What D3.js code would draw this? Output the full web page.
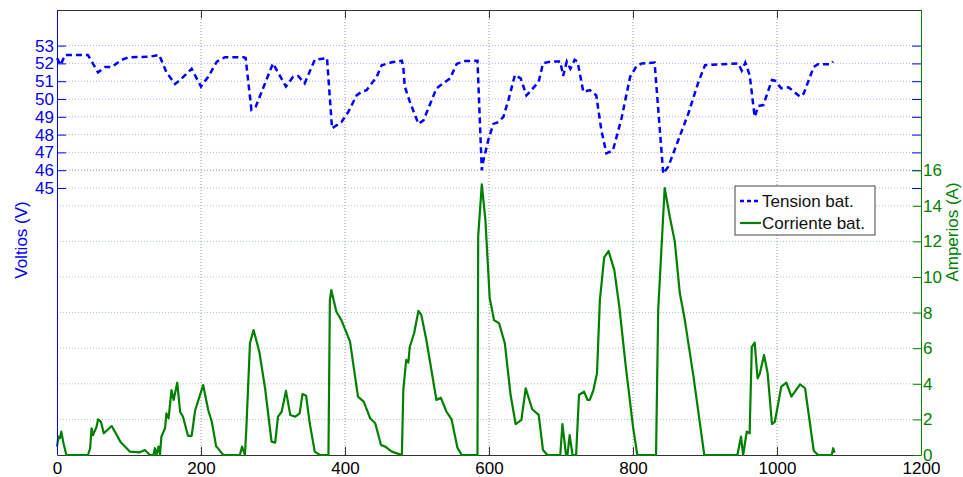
<!DOCTYPE html>
<html>
<head>
<meta charset="utf-8">
<script src="https://cdn.jsdelivr.net/npm/d3@7"></script>
<style>
  body { margin: 0; background: #fff; }
  svg { display: block; font-family: "Liberation Sans", Arial, sans-serif; }
</style>
</head>
<body>
<div id="chart"></div>
<script>
// x positions (s) and battery voltage (V)
const timeV = [0, 5, 11, 43, 57, 67, 76, 90, 99, 129, 142, 152, 164, 171, 187, 200, 210, 222, 233, 259,
  262, 270, 276, 300, 318, 328, 335, 344, 358, 375, 382, 395, 405, 416, 423, 430, 444, 451, 465, 479,
  481, 483, 490, 502, 509, 527, 546, 555, 567, 584, 590, 592, 599, 606, 613, 620, 627, 636, 644, 652,
  659, 669, 675, 685, 699, 703, 708, 713, 719, 723, 731, 740, 749, 756, 763, 772, 784, 796, 805, 812,
  830, 842, 849, 863, 877, 891, 900, 921, 946, 951, 956, 962, 969, 974, 981, 993, 997, 1006, 1016, 1032,
  1037, 1051, 1057, 1074, 1078]
const voltage = [52.3, 51.9, 52.47, 52.47, 51.5, 51.8, 51.8, 52.2, 52.34, 52.38, 52.47, 51.5, 50.84, 51.07, 51.7, 50.7, 51.25, 52.1, 52.34, 52.34,
  52.3, 49.4, 49.57, 52.0, 50.7, 51.25, 51.29, 50.88, 52.2, 52.3, 48.35, 48.7, 49.3, 50.2, 50.4, 50.5, 51.25, 51.9, 52.06, 52.15,
  51.8, 50.7, 49.85, 48.6, 48.8, 50.6, 51.16, 51.97, 52.13, 52.15, 46.0, 46.5, 47.7, 48.6, 48.7, 49.0, 49.94, 51.35, 51.16, 50.2,
  50.5, 50.97, 52.0, 52.1, 52.1, 51.3, 52.1, 51.7, 52.2, 52.1, 50.4, 50.5, 50.2, 48.26, 46.95, 47.1, 48.9, 51.25, 51.85, 52.0,
  52.05, 45.8, 46.2, 47.7, 49.2, 50.97, 51.9, 51.95, 52.0, 51.6, 52.04, 51.35, 49.0, 49.6, 49.66, 51.07, 51.03, 50.6, 50.66, 50.13,
  50.3, 51.8, 51.95, 51.95, 52.1]

// x positions (s) and battery current (A)
const timeI = [0, 2, 4, 6, 9, 13, 43, 46, 48, 50, 55, 57, 61, 65, 76, 88, 101, 115, 122, 129,
  134, 136, 138, 141, 143, 145, 150, 152, 155, 159, 162, 167, 171, 175, 182, 187, 192, 203, 210, 215,
  221, 231, 254, 257, 261, 263, 268, 273, 281, 289, 298, 303, 307, 312, 318, 324, 331, 337, 341, 346,
  351, 358, 365, 377, 379, 381, 388, 395, 407, 418, 426, 435, 442, 450, 456, 465, 479, 481, 485, 488,
  490, 496, 502, 506, 513, 527, 533, 541, 548, 556, 562, 584, 585, 590, 595, 601, 607, 614, 622, 630,
  637, 645, 651, 660, 669, 675, 681, 699, 702, 707, 709, 712, 716, 721, 725, 732, 737, 740, 745, 750,
  754, 760, 766, 774, 781, 790, 800, 806, 832, 835, 844, 851, 858, 865, 872, 884, 899, 945, 950, 953,
  958, 962, 965, 969, 973, 976, 982, 987, 993, 997, 1006, 1013, 1020, 1032, 1039, 1051, 1057, 1076, 1078, 1080]
const current = [0.47, 1.03, 0.94, 1.31, 0.66, 0, 0, 0.38, 1.5, 1.12, 1.59, 2.0, 1.87, 1.22, 1.63, 0.75, 0.19, 0.15, 0.28, 0,
  0, 0.38, 0, 0.47, 0, 1.03, 1.5, 2.34, 2.06, 3.65, 3.09, 4.06, 2.43, 2.15, 1.07, 1.07, 2.53, 3.93, 2.53, 1.87,
  0.5, 0, 0, 0.47, 0, 1.5, 6.28, 7.02, 5.8, 3.75, 0.75, 0.69, 2.15, 2.43, 3.6, 2.25, 2.15, 2.34, 3.43, 3.33,
  1.78, 0.19, 0, 0, 8.7, 9.27, 8.05, 7.58, 6.37, 3.28, 3.0, 2.06, 1.78, 0.56, 0.47, 0.19, 0, 3.65, 5.34, 5.19,
  6.08, 6.84, 8.1, 7.87, 6.46, 3.09, 3.22, 2.43, 2.0, 0.43, 0, 0, 12.3, 15.2, 13.2, 8.8, 7.58, 7.4, 6.27, 3.37,
  1.74, 1.97, 3.75, 2.57, 2.25, 0.28, 0, 0, 1.74, 0, 0, 1.12, 0, 0, 3.37, 3.56, 3.09, 3.09, 3.65, 4.59,
  8.7, 11.1, 11.46, 10.4, 8.33, 4.96, 1.59, 0, 0, 8.15, 15.0, 13.4, 12.0, 9.1, 7.58, 4.4, 0, 0, 1.03, 0,
  1.31, 1.22, 6.08, 6.31, 4.31, 4.55, 5.62, 4.59, 1.74, 1.87, 3.84, 4.06, 3.28, 3.97, 3.75, 0.24, 0, 0, 0.38, 0.13]

const xTicks = [0, 200, 400, 600, 800, 1000, 1200]
const vTicks = [45, 46, 47, 48, 49, 50, 51, 52, 53]
const iTicks = [0, 2, 4, 6, 8, 10, 12, 14, 16]
const seriesNames = ["Tension bat.", "Corriente bat."]

const blue = "#0000ff"
const green = "#008000"
const fontSize = 17

const W = 963, H = 477
const margin = {top: 10, right: 42, bottom: 22, left: 57}
const width = W - margin.left - margin.right
const height = H - margin.top - margin.bottom

const svg = d3.select("#chart").append("svg")
  .attr("width", W)
  .attr("height", H)

const g = svg.append("g")
  .attr("transform", "translate(" + margin.left + "," + margin.top + ")")

const x = d3.scaleLinear().domain([0, 1200]).range([0, width])
const yV = d3.scaleLinear().domain([30, 55]).range([height, 0])
const yI = d3.scaleLinear().domain([0, 25]).range([height, 0])

// grids
g.append("g").selectAll("line")
  .data(xTicks.slice(1, -1))
  .join("line")
  .attr("x1", d => x(d)).attr("x2", d => x(d))
  .attr("y1", 0).attr("y2", height)
  .attr("stroke", "#777").attr("stroke-width", 0.8).attr("stroke-dasharray", "1,2")

g.append("g").selectAll("line")
  .data(iTicks.slice(1))
  .join("line")
  .attr("x1", 0).attr("x2", width)
  .attr("y1", d => yI(d)).attr("y2", d => yI(d))
  .attr("stroke", "#8fc48f").attr("stroke-width", 0.8).attr("stroke-dasharray", "1,2")

g.append("g").selectAll("line")
  .data(vTicks)
  .join("line")
  .attr("x1", 0).attr("x2", width)
  .attr("y1", d => yV(d)).attr("y2", d => yV(d))
  .attr("stroke", "#9a9aff").attr("stroke-width", 0.8).attr("stroke-dasharray", "1,2")

// box top line + x axes
g.append("line")
  .attr("x1", 0).attr("x2", width).attr("y1", 0.5).attr("y2", 0.5)
  .attr("stroke", "#333")

const xAxis = g.append("g")
  .attr("transform", "translate(0," + height + ")")
  .call(d3.axisBottom(x).tickValues(xTicks).tickFormat(d3.format("d"))
    .tickSizeInner(-8).tickSizeOuter(0).tickPadding(7))
  .attr("font-family", null)
xAxis.select(".domain").attr("stroke", "#333")
xAxis.selectAll(".tick line").attr("stroke", "#333")
xAxis.selectAll("text").attr("font-size", fontSize).attr("fill", "#000")

g.append("g")
  .call(d3.axisTop(x).tickValues(xTicks).tickSizeInner(-8).tickSizeOuter(0).tickFormat(""))
  .call(a => a.select(".domain").remove())
  .selectAll(".tick line").attr("stroke", "#333")

// current line
const lineI = d3.line()
  .x((d, i) => x(timeI[i]))
  .y(d => yI(d))

g.append("path")
  .datum(current)
  .attr("fill", "none")
  .attr("stroke", green)
  .attr("stroke-width", 2.2)
  .attr("stroke-linejoin", "round")
  .attr("d", lineI)

// voltage line
const lineV = d3.line()
  .x((d, i) => x(timeV[i]))
  .y(d => yV(d))

g.append("path")
  .datum(voltage)
  .attr("fill", "none")
  .attr("stroke", blue)
  .attr("stroke-width", 2.5)
  .attr("stroke-dasharray", "6,4")
  .attr("d", lineV)

// left axis (voltage)
const leftAxis = g.append("g")
  .call(d3.axisLeft(yV).tickValues(vTicks).tickSizeInner(-9).tickSizeOuter(0).tickPadding(3))
  .attr("font-family", null)
leftAxis.select(".domain").attr("stroke", blue).attr("d", "M0.5," + height + "V0")
leftAxis.selectAll(".tick line").attr("stroke", blue)
leftAxis.selectAll("text").attr("font-size", fontSize).attr("fill", blue)

// mirrored voltage ticks on right side
g.append("g")
  .attr("transform", "translate(" + width + ",0)")
  .call(d3.axisRight(yV).tickValues(vTicks).tickSizeInner(-9).tickSizeOuter(0).tickFormat(""))
  .call(a => a.select(".domain").remove())
  .selectAll(".tick line").attr("stroke", blue)

// right axis (current)
const rightAxis = g.append("g")
  .attr("transform", "translate(" + width + ",0)")
  .call(d3.axisRight(yI).tickValues(iTicks).tickSizeInner(-8).tickSizeOuter(0).tickPadding(2))
  .attr("font-family", null)
rightAxis.select(".domain").attr("stroke", green).attr("d", "M0.5," + height + "V0")
rightAxis.selectAll(".tick line").attr("stroke", green)
rightAxis.selectAll("text").attr("font-size", fontSize).attr("fill", green)

// axis titles
svg.append("text")
  .attr("transform", "translate(27," + 240 + ") rotate(-90)")
  .attr("text-anchor", "middle")
  .attr("font-size", fontSize)
  .attr("fill", blue)
  .text("Voltios (V)")

svg.append("text")
  .attr("transform", "translate(958," + 232 + ") rotate(-90)")
  .attr("text-anchor", "middle")
  .attr("font-size", fontSize)
  .attr("fill", green)
  .text("Amperios (A)")

// legend
const legend = svg.append("g").attr("transform", "translate(735,186)")
legend.append("rect")
  .attr("width", 140).attr("height", 49)
  .attr("fill", "#fff").attr("stroke", "#444")

const legendRows = legend.selectAll("g.row")
  .data(seriesNames)
  .join("g")
  .attr("class", "row")
  .attr("transform", (d, i) => "translate(0," + (15 + i * 22) + ")")

legendRows.append("line")
  .attr("x1", 5).attr("x2", 26)
  .attr("stroke", (d, i) => i === 0 ? blue : green)
  .attr("stroke-width", (d, i) => i === 0 ? 2.5 : 2.2)
  .attr("stroke-dasharray", (d, i) => i === 0 ? "4,3" : null)

legendRows.append("text")
  .attr("x", 27)
  .attr("y", 6)
  .attr("font-size", fontSize)
  .attr("fill", "#111")
  .text(d => d)
</script>
</body>
</html>
